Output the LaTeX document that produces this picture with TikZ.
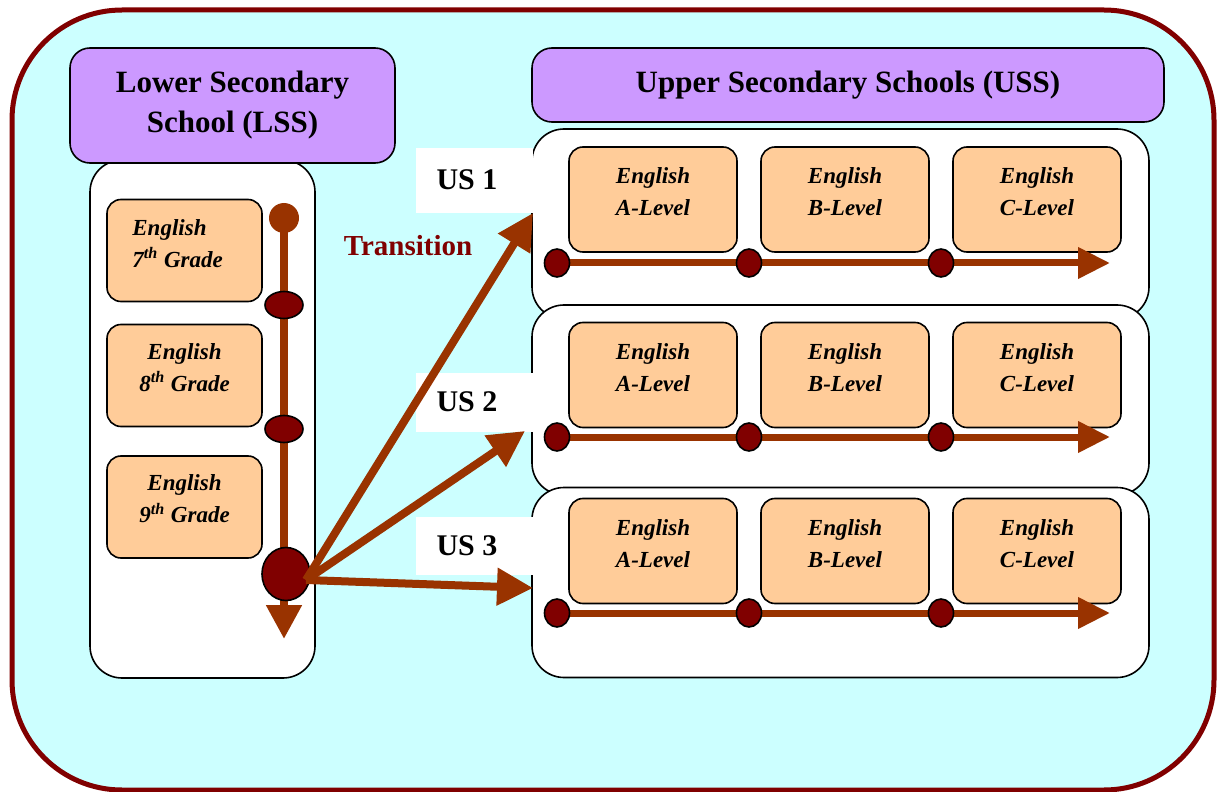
\documentclass[tikz,border=0pt]{standalone}
\usepackage{fontspec}
\setmainfont{Liberation Serif}
\usetikzlibrary{arrows.meta,shapes.geometric}

\definecolor{skyfill}{HTML}{CCFFFF}
\definecolor{lilac}{HTML}{CC99FF}
\definecolor{peach}{HTML}{FFCC99}
\definecolor{rust}{HTML}{993300}
\definecolor{maroon}{HTML}{800000}

\tikzset{
  titlebox/.style={draw, fill=lilac, rounded corners=10pt, line width=0.8pt, inner sep=0pt,
    align=center, font=\fontsize{15.5}{20}\selectfont\bfseries},
  panel/.style={draw, fill=white, rounded corners=16pt, line width=0.8pt, inner sep=0pt},
  gradebox/.style={draw, fill=peach, rounded corners=7pt, line width=0.8pt, inner sep=0pt,
    minimum width=77.5pt, minimum height=51pt},
  lvlbox/.style={gradebox, minimum width=84pt, minimum height=52.5pt},
  boxtext/.style={inner sep=0pt, align=center, font=\fontsize{11.5}{16}\selectfont\bfseries\itshape},
  uspatch/.style={fill=white, inner sep=0pt, minimum width=58.5pt},
  ustext/.style={inner sep=0pt, font=\fontsize{15}{18}\selectfont\bfseries},
  stopdot/.style={ellipse, draw, fill=maroon, line width=0.8pt, inner sep=0pt},
  track/.style={rust, line width=3.5pt, -{Triangle[length=16pt,width=15pt]}},
  jump/.style={rust, line width=4pt, -{Triangle[length=18pt,width=18pt]}},
}

\begin{document}
\begin{tikzpicture}[x=0.5pt, y=-0.5pt]
  \useasboundingbox (0,0) rectangle (1217,792);

  % outer frame
  \node[draw=maroon, fill=skyfill, rounded corners=55pt, line width=2.5pt,
    minimum width=601pt, minimum height=390pt] (frame) at (613,400) {};

  % lower secondary school
  \node[panel, minimum width=112.5pt, minimum height=259pt] (lss) at (202.5,419) {};
  \node[titlebox, minimum width=162.5pt, minimum height=57.5pt] (lsstitle) at (232.5,105.5)
    {Lower Secondary\\School (LSS)};

  \foreach \g/\gy in {7/250.5, 8/375.5, 9/507} {
    \node[gradebox] (g\g) at (184.5,\gy) {};
    \ifnum\g=7
      \node[boxtext, align=left, anchor=west] (g\g t) at (132,243.5)
        {English\\\g\textsuperscript{th} Grade};
    \else
      \node[boxtext, yshift=4pt] (g\g t) at (g\g) {English\\\g\textsuperscript{th} Grade};
    \fi
  }

  % grade line
  \node[circle, fill=rust, inner sep=0pt, minimum size=15pt] (lsstop) at (284,218) {};
  \coordinate (lssdown) at (284,639);
  \draw[rust, line width=4pt, -{Triangle[length=17pt,width=17pt]}] (lsstop.center) -- (lssdown);
  \node[stopdot, minimum width=19pt, minimum height=13.5pt] (lss78) at (284,305) {};
  \node[stopdot, minimum width=19pt, minimum height=13.5pt] (lss89) at (284,429) {};
  \node[stopdot, minimum width=24pt, minimum height=26.5pt] (lssend) at (286,574) {};

  % upper secondary schools
  \node[titlebox, minimum width=316pt, minimum height=37pt] (usstitle) at (848,85)
    {Upper Secondary Schools (USS)};

  \foreach \r/\py/\by/\ly in {1/224/199.5/263, 2/400/375/437, 3/582.5/551/613} {
    \node[panel, minimum width=308.5pt, minimum height=95pt] (us\r) at (840.5,\py) {};
    \foreach \c/\cx/\lv in {a/653/A, b/845/B, c/1037/C} {
      \node[lvlbox] (us\r\c) at (\cx,\by) {};
      \node[boxtext, yshift=3.75pt] (us\r\c t) at (us\r\c) {English\\\lv-Level};
    }
    \coordinate (us\r start) at (557,\ly);
    \coordinate (us\r end) at (1110,\ly);
    \draw[track] (us\r start) -- (us\r end);
    \foreach \c/\dx in {a/557, b/749, c/941}
      \node[stopdot, minimum width=12.5pt, minimum height=14pt] (us\r\c dot) at (\dx,\ly) {};
  }

  % school labels
  \node[uspatch, minimum height=32.5pt] (us1patch) at (474.5,180.5) {};
  \node[uspatch, minimum height=29.5pt] (us2patch) at (474.5,402.5) {};
  \node[uspatch, minimum height=29pt] (us3patch) at (474.5,546) {};
  \node[ustext] (us1label) at (467,180) {US 1};
  \node[ustext] (us2label) at (467,402) {US 2};
  \node[ustext] (us3label) at (467,546) {US 3};

  \node[font=\fontsize{14.5}{17}\selectfont\bfseries, text=maroon, inner sep=0pt] (trans)
    at (408,246) {Transition};

  % transition arrows
  \coordinate (hub) at (306,580);
  \coordinate (to1) at (533,213);
  \coordinate (to2) at (525,431);
  \coordinate (to3) at (533,588);
  \draw[jump] (hub) -- (to1);
  \draw[jump] (hub) -- (to2);
  \draw[jump] (hub) -- (to3);
\end{tikzpicture}
\end{document}
